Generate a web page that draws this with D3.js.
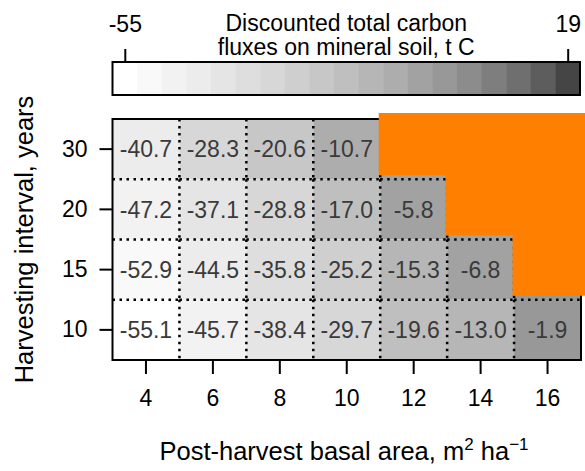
<!DOCTYPE html>
<meta charset="utf-8">
<style>
body { margin: 0; background: #fff; }
svg text { font-family: "Liberation Sans", Arial, sans-serif; }
.cell-label { fill: #3a3a3a; }
</style>
<svg width="585" height="471"></svg>
<script src="https://d3js.org/d3.v7.min.js"></script>
<script>

// basal area after harvest (columns) and harvesting interval (rows, top to bottom)
var basalArea = [4, 6, 8, 10, 12, 14, 16];
var intervals = [30, 20, 15, 10];

// discounted total carbon fluxes, t C (null = not simulated, orange)
var flux30 = [-40.7, -28.3, -20.6, -10.7, null, null, null];
var flux20 = [-47.2, -37.1, -28.8, -17.0, -5.8, null, null];
var flux15 = [-52.9, -44.5, -35.8, -25.2, -15.3, -6.8, null];
var flux10 = [-55.1, -45.7, -38.4, -29.7, -19.6, -13.0, -1.9];

var colorLimits = [-55, 19];
var colorTicks = ["-55", "19"];
var nBands = 19;

var svg = d3.select("svg"),
    width = +svg.attr("width"),
    height = +svg.attr("height");

var fontSize = 23;
var titleSize = 25.5;
var plot = { left: 112.5, right: 581, top: 119, bottom: 360 };
var bar = { left: 112.5, right: 580, top: 62, bottom: 95 };

var x = d3.scaleBand().domain(basalArea).range([plot.left, plot.right]);
var y = d3.scaleBand().domain(intervals).range([plot.top, plot.bottom]);

// grey levels, gamma corrected like R's gray.colors
var greys = d3.quantize(d3.interpolateRgb.gamma(2.2)("#ffffff", "#454545"), nBands);
var half = (colorLimits[1] - colorLimits[0]) / (nBands - 1) / 2;
var color = d3.scaleQuantize()
  .domain([colorLimits[0] - half, colorLimits[1] + half])
  .range(greys);

var rowsData = [flux30, flux20, flux15, flux10];
var cells = [];
rowsData.forEach(function(row, i) {
  row.forEach(function(v, j) {
    cells.push({
      ba: basalArea[j], yr: intervals[i], value: v,
      above: i > 0 ? rowsData[i - 1][j] : 0,
      right: j < row.length - 1 ? row[j + 1] : 0
    });
  });
});
var filled = cells.filter(function(d) { return d.value !== null; });

// cells (stretched up a little under the orange mask)
svg.append("g")
  .selectAll("rect")
  .data(filled)
  .enter().append("rect")
  .attr("x", function(d) { return x(d.ba); })
  .attr("y", function(d) { return y(d.yr) - (d.above === null ? 8 : 0); })
  .attr("width", x.bandwidth())
  .attr("height", function(d) { return y.bandwidth() + (d.above === null ? 8 : 0); })
  .attr("fill", function(d) { return color(d.value); });

// dotted cell borders, each edge drawn once
var edges = [];
filled.forEach(function(d) {
  var x0 = x(d.ba), x1 = x0 + x.bandwidth(), y0 = y(d.yr), y1 = y0 + y.bandwidth();
  if (d.yr !== intervals[0]) edges.push([x0, y0, x1, y0]);
  if (d.ba !== basalArea[0]) edges.push([x0, y0, x0, y1]);
  if (d.right === null) edges.push([x1, y0, x1, y1]);
});
svg.append("g")
  .selectAll("line")
  .data(edges)
  .enter().append("line")
  .attr("x1", function(d) { return d[0]; })
  .attr("y1", function(d) { return d[1]; })
  .attr("x2", function(d) { return d[2]; })
  .attr("y2", function(d) { return d[3]; })
  .attr("stroke", "#000")
  .attr("stroke-width", 2.5)
  .attr("stroke-dasharray", "2.5,4.5");

svg.append("g")
  .selectAll("text")
  .data(filled)
  .enter().append("text")
  .attr("class", "cell-label")
  .attr("x", function(d) { return x(d.ba) + x.bandwidth() / 2; })
  .attr("y", function(d) { return y(d.yr) + y.bandwidth() / 2; })
  .attr("dy", "0.36em")
  .attr("text-anchor", "middle")
  .attr("font-size", fontSize)
  .text(function(d) { return d.value.toFixed(1); });

// plot box
svg.append("rect")
  .attr("x", plot.left).attr("y", plot.top)
  .attr("width", plot.right - plot.left)
  .attr("height", plot.bottom - plot.top)
  .attr("fill", "none").attr("stroke", "#000").attr("stroke-width", 2);

// axes
var xAxis = svg.append("g")
  .attr("transform", "translate(0," + plot.bottom + ")")
  .call(d3.axisBottom(x).tickSize(14).tickPadding(16));
var yAxis = svg.append("g")
  .attr("transform", "translate(" + plot.left + ",0)")
  .call(d3.axisLeft(y).tickSize(13).tickPadding(12));

[xAxis, yAxis].forEach(function(g) {
  g.select(".domain").remove();
  g.selectAll(".tick line").attr("stroke", "#000").attr("stroke-width", 2);
  g.selectAll(".tick text").attr("font-size", fontSize).attr("fill", "#000")
    .style("font-family", "Liberation Sans, Arial, sans-serif");
});

// orange mask over the combinations that were not simulated
var orange = [];
rowsData.forEach(function(row, i) {
  var first = row.indexOf(null);
  if (first >= 0) orange.push({ yr: intervals[i], ba: basalArea[first] });
});
svg.append("g")
  .selectAll("rect")
  .data(orange)
  .enter().append("rect")
  .attr("x", function(d) { return x(d.ba) - 1.5; })
  .attr("y", plot.top - 6)
  .attr("width", function(d) { return width - x(d.ba) + 1.5; })
  .attr("height", function(d) { return y(d.yr) + y.bandwidth() - 4 - (plot.top - 6); })
  .attr("fill", "#ff8000");

// colour bar
var barX = d3.scaleBand().domain(d3.range(nBands)).range([bar.left, bar.right]);
svg.append("g")
  .selectAll("rect")
  .data(greys)
  .enter().append("rect")
  .attr("x", function(d, i) { return barX(i); })
  .attr("y", bar.top)
  .attr("width", barX.bandwidth() + 0.5)
  .attr("height", bar.bottom - bar.top)
  .attr("fill", function(d) { return d; });
svg.append("rect")
  .attr("x", bar.left).attr("y", bar.top)
  .attr("width", bar.right - bar.left)
  .attr("height", bar.bottom - bar.top)
  .attr("fill", "none").attr("stroke", "#000").attr("stroke-width", 2);

var barScale = d3.scaleLinear()
  .domain(colorLimits)
  .range([barX(0) + barX.bandwidth() / 2, barX(nBands - 1) + barX.bandwidth() / 2]);
var barAxis = svg.append("g")
  .attr("transform", "translate(0," + bar.top + ")")
  .call(d3.axisTop(barScale).tickValues(colorTicks.map(Number)).tickSize(13).tickPadding(17)
    .tickFormat(function(d, i) { return colorTicks[i]; }));
barAxis.select(".domain").remove();
barAxis.selectAll(".tick line").attr("stroke", "#000").attr("stroke-width", 2);
barAxis.selectAll(".tick text").attr("font-size", fontSize).attr("fill", "#000")
  .style("font-family", "Liberation Sans, Arial, sans-serif");

var barTitle = svg.append("text")
  .attr("text-anchor", "middle")
  .attr("font-size", fontSize);
barTitle.append("tspan").attr("x", (bar.left + bar.right) / 2).attr("y", 30.5)
  .text("Discounted total carbon");
barTitle.append("tspan").attr("x", (bar.left + bar.right) / 2).attr("y", 55)
  .text("fluxes on mineral soil, t C");

// axis titles
var xTitle = svg.append("text")
  .attr("x", 344)
  .attr("y", 460)
  .attr("text-anchor", "middle")
  .attr("font-size", titleSize);
xTitle.append("tspan").text("Post-harvest basal area, m");
xTitle.append("tspan").attr("dy", -10).attr("font-size", 17).text("2");
xTitle.append("tspan").attr("dy", 10).text(" ha");
xTitle.append("tspan").attr("dy", -10).attr("font-size", 17).text("\u22121");

svg.append("text")
  .attr("transform", "translate(33," + (plot.top + plot.bottom) / 2 + ") rotate(-90)")
  .attr("text-anchor", "middle")
  .attr("font-size", titleSize)
  .text("Harvesting interval, years");

</script>
